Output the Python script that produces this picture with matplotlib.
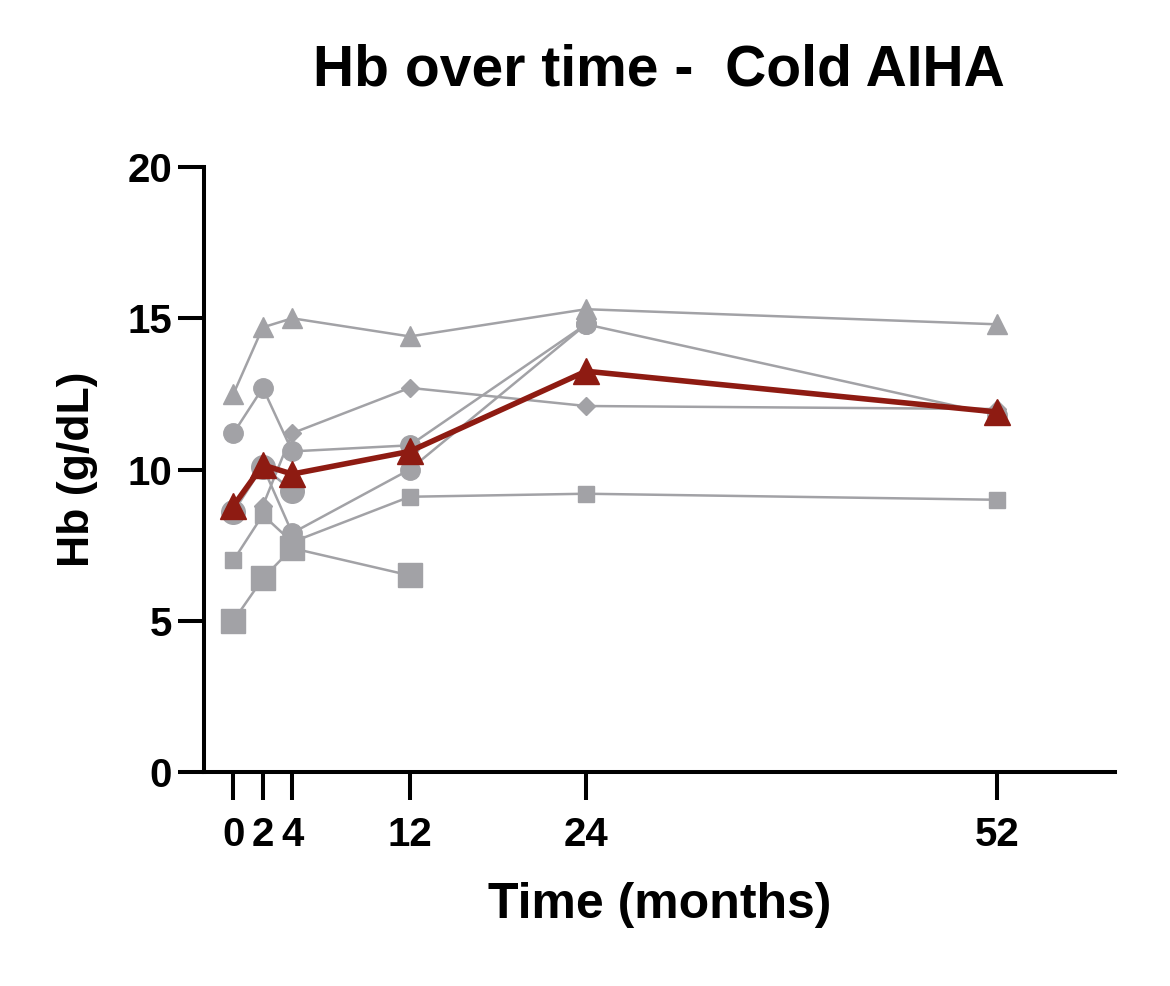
import numpy as np
import matplotlib.pyplot as plt

plt.rcParams['font.family'] = ['Liberation Sans', 'DejaVu Sans']
plt.rcParams['font.weight'] = 'bold'

# ---- data ----
months = [0, 2, 4, 12, 24, 52]
tri_hb = [12.5, 14.7, 15.0, 14.4, 15.3, 14.8]
circ_hb = [11.2, 12.7, 10.6, 10.8, 14.8, 11.8]
diam_x = [2, 4, 12, 24, 52]
diam_hb = [8.8, 11.2, 12.7, 12.1, 12.0]
bigcirc_x = [0, 2, 4]
bigcirc_hb = [8.6, 10.1, 9.3]
sq_hb = [7.0, 8.5, 7.6, 9.1, 9.2, 9.0]
bigsq_x = [0, 2, 4, 12]
bigsq_hb = [5.0, 6.4, 7.4, 6.5]
circ2_x = [2, 4, 12, 24]
circ2_hb = [10.1, 7.9, 10.0, 14.8]
mean_hb = [8.8, 10.15, 9.85, 10.6, 13.25, 11.9]

gray = '#a2a2a6'
red = '#8e1b12'

fig = plt.figure(figsize=(11.7, 9.86), dpi=100)
ax = fig.add_axes([0.1744, 0.217, 0.7786, 0.6136])

kw = dict(color=gray, lw=1.8, zorder=2)
ax.plot(months, tri_hb, marker='^', ms=14, **kw)
ax.plot(months, circ_hb, marker='o', ms=14, **kw)
ax.plot(diam_x, diam_hb, marker='D', ms=9, **kw)
ax.plot(bigcirc_x, bigcirc_hb, marker='o', ms=17, **kw)
ax.plot(months, sq_hb, marker='s', ms=12, **kw)
ax.plot(bigsq_x, bigsq_hb, marker='s', ms=17, **kw)
ax.plot(circ2_x, circ2_hb, marker='o', ms=14, **kw)

# mean line
ax.plot(months, mean_hb, color=red, lw=4, marker='^', ms=19, zorder=5)

ax.set_xlim(-2, 60)
ax.set_ylim(0, 20)
ax.set_xticks(months)
ax.set_yticks([0, 5, 10, 15, 20])
ax.tick_params(axis='both', width=2.9, labelsize=29)
ax.tick_params(axis='x', length=20, pad=12)
ax.tick_params(axis='y', length=19, pad=4)
for lab in ax.get_xticklabels() + ax.get_yticklabels():
    lab.set_fontweight('bold')

for s in ['top', 'right']:
    ax.spines[s].set_visible(False)
for s in ['left', 'bottom']:
    ax.spines[s].set_linewidth(2.9)

ax.set_xlabel('Time (months)', fontsize=36, fontweight='bold', labelpad=20)
ax.set_ylabel('Hb (g/dL)', fontsize=32, fontweight='bold', labelpad=21)
fig.text(0.563, 0.928, 'Hb over time -  Cold AIHA', ha='center', va='center',
         fontsize=41, fontweight='bold')

fig.savefig('out.png', dpi=100)
